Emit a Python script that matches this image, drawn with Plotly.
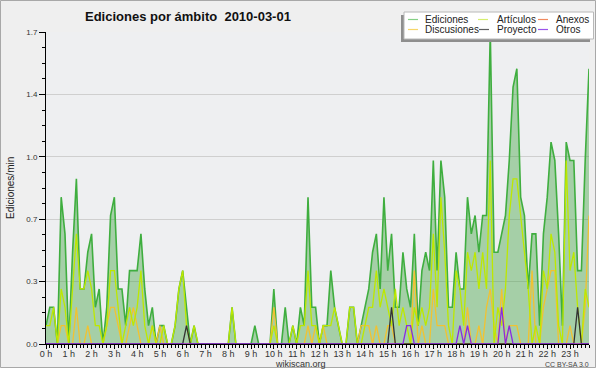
import plotly.graph_objects as go

# ---------------- data (edits per minute, 10-minute slots, 6 per hour) ----------------
HOUR_LABELS = [f"{h} h" for h in range(24)]
SERIES_NAMES = ["Ediciones", "Artículos", "Anexos", "Discusiones", "Proyecto", "Otros"]

EDICIONES = [
    0.1, 0.2, 0.2, 0.0, 0.8, 0.6,   # 0h
    0.0, 0.5, 0.9, 0.3, 0.3, 0.5,   # 1h
    0.6, 0.2, 0.3, 0.0, 0.2, 0.7,   # 2h
    0.8, 0.3, 0.3, 0.1, 0.4, 0.4,   # 3h
    0.4, 0.6, 0.3, 0.1, 0.2, 0.0,   # 4h
    0.1, 0.1, 0.0, 0.0, 0.1, 0.3,   # 5h
    0.4, 0.2, 0.0, 0.1, 0.0, 0.0,   # 6h
    0.0, 0.0, 0.0, 0.0, 0.0, 0.0,   # 7h
    0.0, 0.2, 0.0, 0.0, 0.0, 0.0,   # 8h
    0.0, 0.1, 0.0, 0.0, 0.0, 0.0,   # 9h
    0.3, 0.0, 0.0, 0.2, 0.0, 0.1,   # 10h
    0.0, 0.2, 0.1, 0.8, 0.2, 0.2,   # 11h
    0.0, 0.1, 0.1, 0.4, 0.2, 0.1,   # 12h
    0.0, 0.0, 0.2, 0.2, 0.0, 0.1,   # 13h
    0.2, 0.3, 0.5, 0.6, 0.3, 0.8,   # 14h
    0.4, 0.6, 0.2, 0.2, 0.5, 0.3,   # 15h
    0.2, 0.6, 0.1, 0.4, 0.5, 0.4,   # 16h
    1.0, 0.4, 1.0, 0.8, 0.2, 0.2,   # 17h
    0.5, 0.3, 0.3, 0.8, 0.6, 0.7,   # 18h
    0.5, 0.7, 0.7, 1.7, 0.5, 0.5,   # 19h
    0.6, 0.7, 1.0, 1.4, 1.5, 0.8,   # 20h
    0.7, 0.3, 0.6, 0.6, 0.1, 0.6,   # 21h
    0.8, 1.1, 1.0, 0.6, 0.1, 1.1,   # 22h
    1.0, 1.0, 0.4, 0.4, 1.0, 1.5,   # 23h
]
ARTICULOS = [
    0.1, 0.1, 0.2, 0.0, 0.3, 0.2,
    0.0, 0.3, 0.6, 0.3, 0.3, 0.4,
    0.3, 0.1, 0.1, 0.0, 0.1, 0.4,
    0.4, 0.2, 0.0, 0.1, 0.2, 0.1,
    0.2, 0.4, 0.1, 0.0, 0.1, 0.0,
    0.0, 0.1, 0.0, 0.0, 0.1, 0.3,
    0.4, 0.1, 0.0, 0.1, 0.0, 0.0,
    0.0, 0.0, 0.0, 0.0, 0.0, 0.0,
    0.0, 0.2, 0.0, 0.0, 0.0, 0.0,
    0.0, 0.0, 0.0, 0.0, 0.0, 0.0,
    0.1, 0.0, 0.0, 0.0, 0.0, 0.1,
    0.0, 0.1, 0.1, 0.4, 0.1, 0.1,
    0.0, 0.1, 0.1, 0.1, 0.2, 0.1,
    0.0, 0.0, 0.2, 0.2, 0.0, 0.0,
    0.1, 0.2, 0.2, 0.4, 0.2, 0.3,
    0.2, 0.1, 0.3, 0.1, 0.2, 0.1,
    0.0, 0.2, 0.1, 0.2, 0.1, 0.2,
    0.6, 0.2, 0.8, 0.5, 0.1, 0.0,
    0.4, 0.3, 0.1, 0.5, 0.4, 0.5,
    0.3, 0.5, 0.3, 1.0, 0.0, 0.2,
    0.1, 0.3, 0.7, 0.9, 0.9, 0.7,
    0.5, 0.3, 0.0, 0.1, 0.0, 0.4,
    0.3, 0.6, 0.5, 0.1, 0.0, 1.0,
    0.4, 0.5, 0.2, 0.0, 0.3, 0.2,
]
DISCUSIONES = [
    0.0, 0.0, 0.0, 0.0, 0.1, 0.1,
    0.0, 0.0, 0.2, 0.0, 0.0, 0.1,
    0.0, 0.0, 0.0, 0.0, 0.1, 0.2,
    0.2, 0.1, 0.0, 0.0, 0.1, 0.2,
    0.1, 0.0, 0.0, 0.0, 0.1, 0.0,
    0.1, 0.0, 0.0, 0.0, 0.0, 0.0,
    0.0, 0.0, 0.0, 0.0, 0.0, 0.0,
    0.0, 0.0, 0.0, 0.0, 0.0, 0.0,
    0.0, 0.0, 0.0, 0.0, 0.0, 0.0,
    0.0, 0.0, 0.0, 0.0, 0.0, 0.0,
    0.2, 0.0, 0.0, 0.0, 0.0, 0.0,
    0.0, 0.0, 0.0, 0.1, 0.0, 0.1,
    0.0, 0.1, 0.0, 0.0, 0.0, 0.0,
    0.0, 0.0, 0.0, 0.0, 0.0, 0.1,
    0.1, 0.1, 0.0, 0.1, 0.0, 0.0,
    0.1, 0.1, 0.0, 0.0, 0.0, 0.0,
    0.0, 0.4, 0.0, 0.1, 0.0, 0.0,
    0.3, 0.1, 0.1, 0.1, 0.0, 0.0,
    0.0, 0.0, 0.0, 0.2, 0.0, 0.0,
    0.1, 0.0, 0.2, 0.3, 0.1, 0.0,
    0.3, 0.0, 0.1, 0.1, 0.1, 0.0,
    0.0, 0.0, 0.4, 0.0, 0.0, 0.2,
    0.3, 0.4, 0.4, 0.0, 0.0, 0.0,
    0.1, 0.0, 0.0, 0.0, 0.2, 0.7,
]
PROYECTO = [
    0.0, 0.0, 0.0, 0.0, 0.0, 0.0,
    0.0, 0.0, 0.0, 0.0, 0.0, 0.0,
    0.0, 0.0, 0.0, 0.0, 0.0, 0.0,
    0.0, 0.0, 0.0, 0.0, 0.0, 0.0,
    0.0, 0.0, 0.0, 0.0, 0.0, 0.0,
    0.0, 0.0, 0.0, 0.0, 0.0, 0.0,
    0.0, 0.1, 0.0, 0.0, 0.0, 0.0,
    0.0, 0.0, 0.0, 0.0, 0.0, 0.0,
    0.0, 0.0, 0.0, 0.0, 0.0, 0.0,
    0.0, 0.0, 0.0, 0.0, 0.0, 0.0,
    0.0, 0.0, 0.0, 0.0, 0.0, 0.0,
    0.0, 0.0, 0.0, 0.0, 0.0, 0.0,
    0.0, 0.0, 0.0, 0.0, 0.0, 0.0,
    0.0, 0.0, 0.0, 0.0, 0.0, 0.0,
    0.0, 0.0, 0.0, 0.0, 0.0, 0.0,
    0.0, 0.2, 0.0, 0.0, 0.0, 0.0,
    0.0, 0.0, 0.0, 0.0, 0.0, 0.0,
    0.0, 0.0, 0.0, 0.0, 0.0, 0.0,
    0.0, 0.0, 0.0, 0.0, 0.0, 0.0,
    0.0, 0.0, 0.0, 0.0, 0.0, 0.0,
    0.0, 0.0, 0.0, 0.0, 0.0, 0.0,
    0.0, 0.0, 0.0, 0.0, 0.0, 0.0,
    0.0, 0.0, 0.0, 0.0, 0.0, 0.0,
    0.0, 0.0, 0.2, 0.0, 0.0, 0.0,
]
OTROS = [
    0.0, 0.0, 0.0, 0.0, 0.0, 0.0,
    0.0, 0.0, 0.0, 0.0, 0.0, 0.0,
    0.0, 0.0, 0.0, 0.0, 0.0, 0.0,
    0.0, 0.0, 0.0, 0.0, 0.0, 0.0,
    0.0, 0.0, 0.0, 0.0, 0.0, 0.0,
    0.0, 0.0, 0.0, 0.0, 0.0, 0.0,
    0.0, 0.0, 0.0, 0.0, 0.0, 0.0,
    0.0, 0.0, 0.0, 0.0, 0.0, 0.0,
    0.0, 0.0, 0.0, 0.0, 0.0, 0.0,
    0.0, 0.0, 0.0, 0.0, 0.0, 0.0,
    0.0, 0.0, 0.0, 0.0, 0.0, 0.0,
    0.0, 0.0, 0.0, 0.0, 0.0, 0.0,
    0.0, 0.0, 0.0, 0.0, 0.0, 0.0,
    0.0, 0.0, 0.0, 0.0, 0.0, 0.0,
    0.0, 0.0, 0.0, 0.0, 0.0, 0.0,
    0.0, 0.0, 0.0, 0.0, 0.0, 0.1,
    0.1, 0.0, 0.0, 0.0, 0.0, 0.0,
    0.0, 0.0, 0.0, 0.0, 0.0, 0.0,
    0.0, 0.1, 0.0, 0.1, 0.0, 0.0,
    0.0, 0.0, 0.0, 0.0, 0.0, 0.0,
    0.2, 0.0, 0.1, 0.0, 0.0, 0.0,
    0.0, 0.0, 0.0, 0.0, 0.0, 0.0,
    0.0, 0.0, 0.0, 0.0, 0.0, 0.0,
    0.0, 0.0, 0.0, 0.0, 0.0, 0.0,
]
ANEXOS = [
    0.0, 0.0, 0.0, 0.0, 0.0, 0.0,
    0.0, 0.0, 0.0, 0.0, 0.0, 0.0,
    0.0, 0.0, 0.0, 0.0, 0.0, 0.0,
    0.0, 0.0, 0.0, 0.0, 0.0, 0.0,
    0.0, 0.0, 0.0, 0.0, 0.0, 0.0,
    0.0, 0.0, 0.0, 0.0, 0.0, 0.0,
    0.0, 0.0, 0.0, 0.0, 0.0, 0.0,
    0.0, 0.0, 0.0, 0.0, 0.0, 0.0,
    0.0, 0.0, 0.0, 0.0, 0.0, 0.0,
    0.0, 0.0, 0.0, 0.0, 0.0, 0.0,
    0.0, 0.0, 0.0, 0.0, 0.0, 0.0,
    0.0, 0.0, 0.0, 0.0, 0.0, 0.0,
    0.0, 0.0, 0.0, 0.0, 0.0, 0.0,
    0.0, 0.0, 0.0, 0.0, 0.0, 0.0,
    0.0, 0.0, 0.0, 0.0, 0.0, 0.0,
    0.0, 0.0, 0.0, 0.0, 0.0, 0.0,
    0.0, 0.0, 0.0, 0.0, 0.0, 0.0,
    0.0, 0.0, 0.0, 0.0, 0.0, 0.0,
    0.0, 0.0, 0.0, 0.0, 0.0, 0.0,
    0.0, 0.0, 0.0, 0.0, 0.0, 0.0,
    0.0, 0.0, 0.0, 0.0, 0.0, 0.0,
    0.0, 0.0, 0.0, 0.0, 0.0, 0.0,
    0.0, 0.0, 0.0, 0.0, 0.0, 0.0,
    0.0, 0.0, 0.0, 0.0, 0.0, 0.0,
]
Y_TICKS = [0.0, 0.34, 0.68, 1.02, 1.36, 1.7]
Y_TICK_LABELS = ["0.0", "0.3", "0.7", "1.0", "1.4", "1.7"]

# ---------------- styling ----------------
W, H = 600, 370
ML, MR, MT, MB = 46, 11, 32, 26
PW, PH = W - ML - MR, H - MT - MB
FONT = "Liberation Sans, Arial, sans-serif"
BG = "#efefef"
PLOT_BG = "#eeeff1"

COLORS = {
    "Ediciones": "#3fae3f",
    "Artículos": "#bde800",
    "Anexos": "#f07840",
    "Discusiones": "#f2c230",
    "Proyecto": "#333333",
    "Otros": "#8a2be2",
}
LEGEND_COLORS = {
    "Ediciones": "#86d086",
    "Artículos": "#d6ee70",
    "Anexos": "#f08a60",
    "Discusiones": "#f6d66a",
    "Proyecto": "#606060",
    "Otros": "#9b55ea",
}


def px_x(px):
    return (px - ML) / PW


def px_y(py):
    return (H - MB - py) / PH


slots = list(range(len(EDICIONES)))
hour_pos = [6 * h for h in range(24)]

fig = go.Figure()
fig.add_trace(go.Scatter(
    x=slots, y=EDICIONES, name="Ediciones", mode="lines", fill="tozeroy",
    fillcolor="rgba(64,162,64,0.42)", line=dict(color=COLORS["Ediciones"], width=1.6),
))
series = [("Anexos", ANEXOS), ("Discusiones", DISCUSIONES), ("Artículos", ARTICULOS),
          ("Proyecto", PROYECTO), ("Otros", OTROS)]
for name, vals in series:
    fig.add_trace(go.Scatter(
        x=slots, y=vals, name=name, mode="lines",
        line=dict(color=COLORS[name], width=1.3),
    ))

shapes = []
annotations = []

# outer border
shapes.append(dict(type="rect", xref="paper", yref="paper",
                   x0=px_x(0.5), x1=px_x(595.5), y0=px_y(367.5), y1=px_y(0.5),
                   line=dict(color="#a8a8a8", width=1), fillcolor="rgba(0,0,0,0)", layer="above"))
shapes.append(dict(type="rect", xref="paper", yref="paper",
                   x0=px_x(596), x1=px_x(601), y0=px_y(371), y1=px_y(-1),
                   line=dict(width=0), fillcolor="white", layer="above"))
shapes.append(dict(type="rect", xref="paper", yref="paper",
                   x0=px_x(-1), x1=px_x(601), y0=px_y(371), y1=px_y(368),
                   line=dict(width=0), fillcolor="white", layer="above"))

# legend box with shadow
shapes.append(dict(type="rect", xref="paper", yref="paper",
                   x0=px_x(401), x1=px_x(590), y0=px_y(42), y1=px_y(15),
                   line=dict(width=0), fillcolor="#8e8e8e", layer="above"))
shapes.append(dict(type="rect", xref="paper", yref="paper",
                   x0=px_x(404), x1=px_x(593.5), y0=px_y(39), y1=px_y(12),
                   line=dict(color="#b8b8b8", width=1), fillcolor="white", layer="above"))

legend_layout = {
    "Ediciones": (408, 418, 424, 19.5),
    "Artículos": (478, 488, 496, 19.5),
    "Anexos": (538, 548, 555, 19.5),
    "Discusiones": (408, 418, 424, 29.5),
    "Proyecto": (479, 489, 496, 29.5),
    "Otros": (538, 548, 555, 29.5),
}
for name in SERIES_NAMES:
    lx0, lx1, tx, ty = legend_layout[name]
    shapes.append(dict(type="line", xref="paper", yref="paper",
                       x0=px_x(lx0), x1=px_x(lx1), y0=px_y(ty), y1=px_y(ty),
                       line=dict(color=LEGEND_COLORS[name], width=1.2), layer="above"))
    annotations.append(dict(text=name, xref="paper", yref="paper", x=px_x(tx), y=px_y(ty),
                            xanchor="left", yanchor="middle", showarrow=False,
                            font=dict(family=FONT, size=10, color="#222"), borderpad=0))

# title
annotations.append(dict(text="<b>Ediciones por ámbito \u00a02010-03-01</b>", xref="paper", yref="paper",
                        x=px_x(188), y=px_y(17), xanchor="center", yanchor="middle",
                        showarrow=False, font=dict(family=FONT, size=13, color="#111"),
                        borderpad=0))
# y-axis title
annotations.append(dict(text="Ediciones/min", xref="paper", yref="paper",
                        x=px_x(10), y=px_y(188), xanchor="center", yanchor="middle",
                        textangle=-90, showarrow=False,
                        font=dict(family=FONT, size=10, color="#222")))
# footer
annotations.append(dict(text="wikiscan.org", xref="paper", yref="paper",
                        x=px_x(300), y=px_y(364), xanchor="center", yanchor="middle",
                        showarrow=False, font=dict(family=FONT, size=9, color="#333"),
                        borderpad=0))
annotations.append(dict(text="CC BY-SA 3.0", xref="paper", yref="paper",
                        x=px_x(590), y=px_y(364.5), xanchor="right", yanchor="middle",
                        showarrow=False, font=dict(family=FONT, size=7, color="#444"),
                        borderpad=0))

fig.update_layout(
    width=W, height=H,
    margin=dict(l=ML, r=MR, t=MT, b=MB, pad=0),
    paper_bgcolor=BG, plot_bgcolor=PLOT_BG,
    showlegend=False,
    font=dict(family=FONT, size=9, color="#333"),
    shapes=shapes, annotations=annotations,
    title=None,
)
fig.update_xaxes(
    range=[0, len(EDICIONES) - 1], showgrid=False, zeroline=False,
    showline=True, linecolor="black", linewidth=1,
    tickmode="array", tickvals=hour_pos, ticktext=HOUR_LABELS,
    ticks="outside", ticklen=4, tickwidth=1, tickcolor="black",
    ticklabelstandoff=-3,
    tickfont=dict(family=FONT, size=9, color="#333"),
    minor=dict(dtick=1, tick0=0, ticklen=3, tickwidth=1, tickcolor="black", showgrid=False),
    fixedrange=True,
)
fig.update_yaxes(
    range=[0, 1.7], showgrid=True, gridcolor="#cfcfcf", gridwidth=1, zeroline=False,
    showline=True, linecolor="black", linewidth=1,
    tickmode="array", tickvals=Y_TICKS, ticktext=Y_TICK_LABELS,
    ticks="outside", ticklen=6, tickwidth=1, tickcolor="black",
    tickfont=dict(family=FONT, size=8, color="#333"),
    minor=dict(tickmode="array", tickvals=[k * 0.085 for k in range(21)],
               ticklen=3, tickwidth=1, tickcolor="black", showgrid=False),
    fixedrange=True,
)

fig.write_html(
    "out.html",
    config={"displayModeBar": False},
    post_script="document.body.style.margin='0px';document.body.style.overflow='hidden';",
)
